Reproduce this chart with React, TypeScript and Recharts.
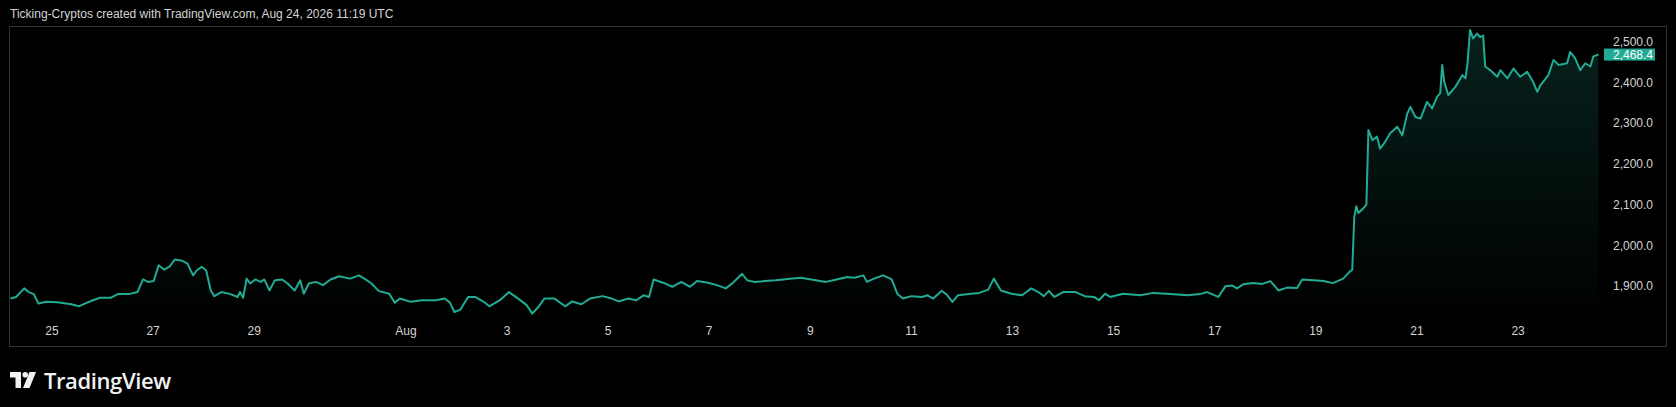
import { AreaChart, Area, XAxis, YAxis, ReferenceLine } from "recharts";

// days since Jul 24 00:00 UTC
const days = [
  0.18, 0.29, 0.45, 0.54, 0.64, 0.73, 0.89, 1.10, 1.38, 1.53, 1.67, 1.81, 1.95, 2.16, 2.30, 2.52, 2.69, 2.80, 2.90, 3.01,
  3.11, 3.22, 3.33, 3.43, 3.57, 3.68, 3.79, 3.86, 3.96, 4.05, 4.14, 4.21, 4.35, 4.53, 4.67, 4.72, 4.78, 4.85, 4.92, 5.02,
  5.13, 5.20, 5.30, 5.41, 5.55, 5.66, 5.80, 5.91, 5.98, 6.08, 6.22, 6.36, 6.51, 6.68, 6.90, 7.07, 7.18, 7.32, 7.46, 7.67,
  7.78, 7.88, 8.10, 8.31, 8.59, 8.77, 8.87, 8.96, 9.08, 9.23, 9.37, 9.54, 9.65, 9.86, 10.04, 10.22, 10.39, 10.50, 10.61, 10.74,
  10.94, 11.15, 11.29, 11.47, 11.64, 11.89, 12.07, 12.21, 12.39, 12.56, 12.70, 12.81, 12.90, 13.09, 13.27, 13.45, 13.62, 13.76, 13.98, 14.15,
  14.33, 14.47, 14.65, 14.75, 14.89, 15.10, 15.32, 15.60, 15.81, 16.02, 16.31, 16.52, 16.73, 16.87, 17.05, 17.12, 17.26, 17.44, 17.61, 17.72,
  17.83, 18.00, 18.21, 18.32, 18.43, 18.60, 18.71, 18.81, 18.92, 19.13, 19.34, 19.52, 19.63, 19.77, 19.98, 20.19, 20.37, 20.51, 20.62, 20.72,
  20.83, 21.00, 21.25, 21.43, 21.61, 21.71, 21.83, 21.93, 22.19, 22.53, 22.78, 23.12, 23.46, 23.71, 23.85, 24.07, 24.21, 24.35, 24.44, 24.56,
  24.76, 24.94, 25.10, 25.26, 25.43, 25.63, 25.73, 25.95, 26.15, 26.34, 26.54, 26.66, 26.72, 26.76, 26.80, 26.84, 26.94, 27.00, 27.04, 27.12,
  27.21, 27.27, 27.37, 27.47, 27.61, 27.71, 27.81, 27.87, 27.97, 28.07, 28.20, 28.30, 28.40, 28.46, 28.50, 28.54, 28.62, 28.76, 28.90, 28.96,
  29.00, 29.05, 29.11, 29.19, 29.25, 29.31, 29.35, 29.45, 29.59, 29.65, 29.79, 29.91, 30.04, 30.18, 30.30, 30.38, 30.44, 30.60, 30.70, 30.80,
  30.97, 31.03, 31.13, 31.23, 31.33, 31.43, 31.49, 31.59,
];

const prices = [
  1869, 1873, 1894, 1885, 1880, 1857, 1861, 1860, 1855, 1850, 1858, 1865, 1871, 1871, 1880, 1880, 1885, 1916, 1910, 1912,
  1951, 1940, 1948, 1965, 1962, 1955, 1926, 1938, 1947, 1938, 1889, 1875, 1885, 1880, 1873, 1885, 1871, 1918, 1906, 1916,
  1910, 1916, 1889, 1914, 1916, 1906, 1889, 1914, 1881, 1906, 1910, 1902, 1916, 1924, 1918, 1926, 1918, 1906, 1888, 1881,
  1859, 1869, 1861, 1865, 1865, 1869, 1859, 1836, 1842, 1873, 1873, 1861, 1850, 1865, 1885, 1869, 1853, 1832, 1847, 1869,
  1869, 1850, 1862, 1855, 1869, 1875, 1869, 1862, 1869, 1865, 1877, 1873, 1916, 1908, 1898, 1910, 1898, 1912, 1908, 1902,
  1894, 1908, 1930, 1914, 1910, 1912, 1914, 1918, 1920, 1916, 1910, 1916, 1922, 1920, 1926, 1910, 1918, 1926, 1916, 1881,
  1869, 1875, 1873, 1877, 1869, 1888, 1877, 1861, 1877, 1880, 1883, 1891, 1918, 1889, 1881, 1877, 1894, 1885, 1875, 1888,
  1873, 1885, 1885, 1875, 1873, 1865, 1881, 1873, 1881, 1877, 1883, 1880, 1877, 1880, 1885, 1873, 1899, 1901, 1894, 1904,
  1907, 1905, 1912, 1889, 1896, 1895, 1916, 1914, 1912, 1907, 1918, 1934, 1940, 2070, 2096, 2079, 2091, 2100, 2283, 2258,
  2267, 2237, 2254, 2275, 2291, 2270, 2324, 2340, 2315, 2311, 2352, 2336, 2365, 2373, 2443, 2401, 2369, 2389, 2418, 2410,
  2447, 2529, 2508, 2520, 2511, 2515, 2439, 2430, 2414, 2430, 2410, 2434, 2414, 2426, 2401, 2377, 2393, 2418, 2455, 2443,
  2447, 2475, 2459, 2430, 2447, 2439, 2464, 2468.4,
];

const dayTicks = [1, 3, 5, 8, 10, 12, 14, 16, 18, 20, 22, 24, 26, 28, 30];
const dayLabels = ["25", "27", "29", "Aug", "3", "5", "7", "9", "11", "13", "15", "17", "19", "21", "23"];
const priceTicks = [1900, 2000, 2100, 2200, 2300, 2400, 2500];
const lastPrice = 2468.4;

const FONT = "'Liberation Sans', Arial, sans-serif";
const TEAL = "#22ab94";
const TEXT = "#d4d4d4";

const fmt = (v: number) =>
  v.toLocaleString("en-US", { minimumFractionDigits: 1, maximumFractionDigits: 1 });

const data = days.map((t, i) => ({ t, p: prices[i] }));

function PriceTag({ viewBox }: any) {
  if (!viewBox) return null;
  const x = viewBox.x + viewBox.width;
  const y = viewBox.y;
  return (
    <g>
      <rect x={x} y={y - 6} width={51} height={12} fill={TEAL} />
      <text x={x + 9} y={y} dominantBaseline="central" fill="#fff" fontSize={12} fontFamily={FONT}>
        {fmt(lastPrice)}
      </text>
    </g>
  );
}

export default function App() {
  return (
    <div style={{ position: "absolute", left: 0, top: 0, width: 1676, height: 407, background: "#000", overflow: "hidden" }}>
      <div style={{ position: "absolute", left: 10, top: 7, color: TEXT, fontSize: 12, fontFamily: FONT, whiteSpace: "nowrap" }}>
        Ticking-Cryptos created with TradingView.com, Aug 24, 2026 11:19 UTC
      </div>
      <div
        style={{
          position: "absolute", left: 9, top: 26, width: 1658, height: 321,
          border: "1px solid #313131", boxSizing: "border-box",
        }}
      />
      <div style={{ position: "absolute", left: 0, top: 0 }}>
        <AreaChart width={1676} height={407} data={data} margin={{ top: 27, right: 10, bottom: 61, left: 10 }}>
          <defs>
            <linearGradient id="fillTeal" x1="0" y1="0" x2="0" y2="1">
              <stop offset="0%" stopColor={TEAL} stopOpacity={0.32} />
              <stop offset="100%" stopColor={TEAL} stopOpacity={0.01} />
            </linearGradient>
          </defs>
          <XAxis
            dataKey="t"
            type="number"
            domain={[0.169, 31.7]}
            allowDataOverflow
            ticks={dayTicks}
            tickFormatter={(v: number) => dayLabels[dayTicks.indexOf(v)] ?? ""}
            height={28}
            axisLine={false}
            tickLine={false}
            tickSize={0}
            tickMargin={8}
            interval={0}
            tick={{ fill: TEXT, fontSize: 12, fontFamily: FONT }}
          />
          <YAxis
            orientation="right"
            type="number"
            domain={[1821.3, 2536.1]}
            allowDataOverflow
            ticks={priceTicks}
            tickFormatter={fmt}
            width={62}
            axisLine={false}
            tickLine={false}
            tickSize={0}
            tickMargin={9}
            interval={0}
            tick={{ fill: TEXT, fontSize: 12, fontFamily: FONT, textAnchor: "start" }}
          />
          <Area
            type="linear"
            dataKey="p"
            stroke={TEAL}
            strokeWidth={2}
            strokeLinejoin="round"
            fill="url(#fillTeal)"
            dot={false}
            activeDot={false}
            isAnimationActive={false}
          />
          <ReferenceLine y={lastPrice} stroke="none" label={(p: any) => <PriceTag viewBox={p.viewBox} />} />
        </AreaChart>
      </div>
      <div style={{ position: "absolute", left: 10, top: 365, display: "flex", alignItems: "center", gap: 8 }}>
        <svg width={26} height={17} viewBox="0 0 26 17">
          <path d="M0 0 H11 V16 H5.5 V5.5 H0 Z" fill="#f2f2f2" />
          <circle cx={15.2} cy={2.8} r={2.8} fill="#f2f2f2" />
          <path d="M19.5 0 H26 L19.5 16 H13 Z" fill="#f2f2f2" />
        </svg>
        <span style={{ color: "#f2f2f2", fontSize: 22, fontWeight: 600, fontFamily: "'Open Sans', sans-serif", letterSpacing: -0.4 }}>
          TradingView
        </span>
      </div>
    </div>
  );
}
